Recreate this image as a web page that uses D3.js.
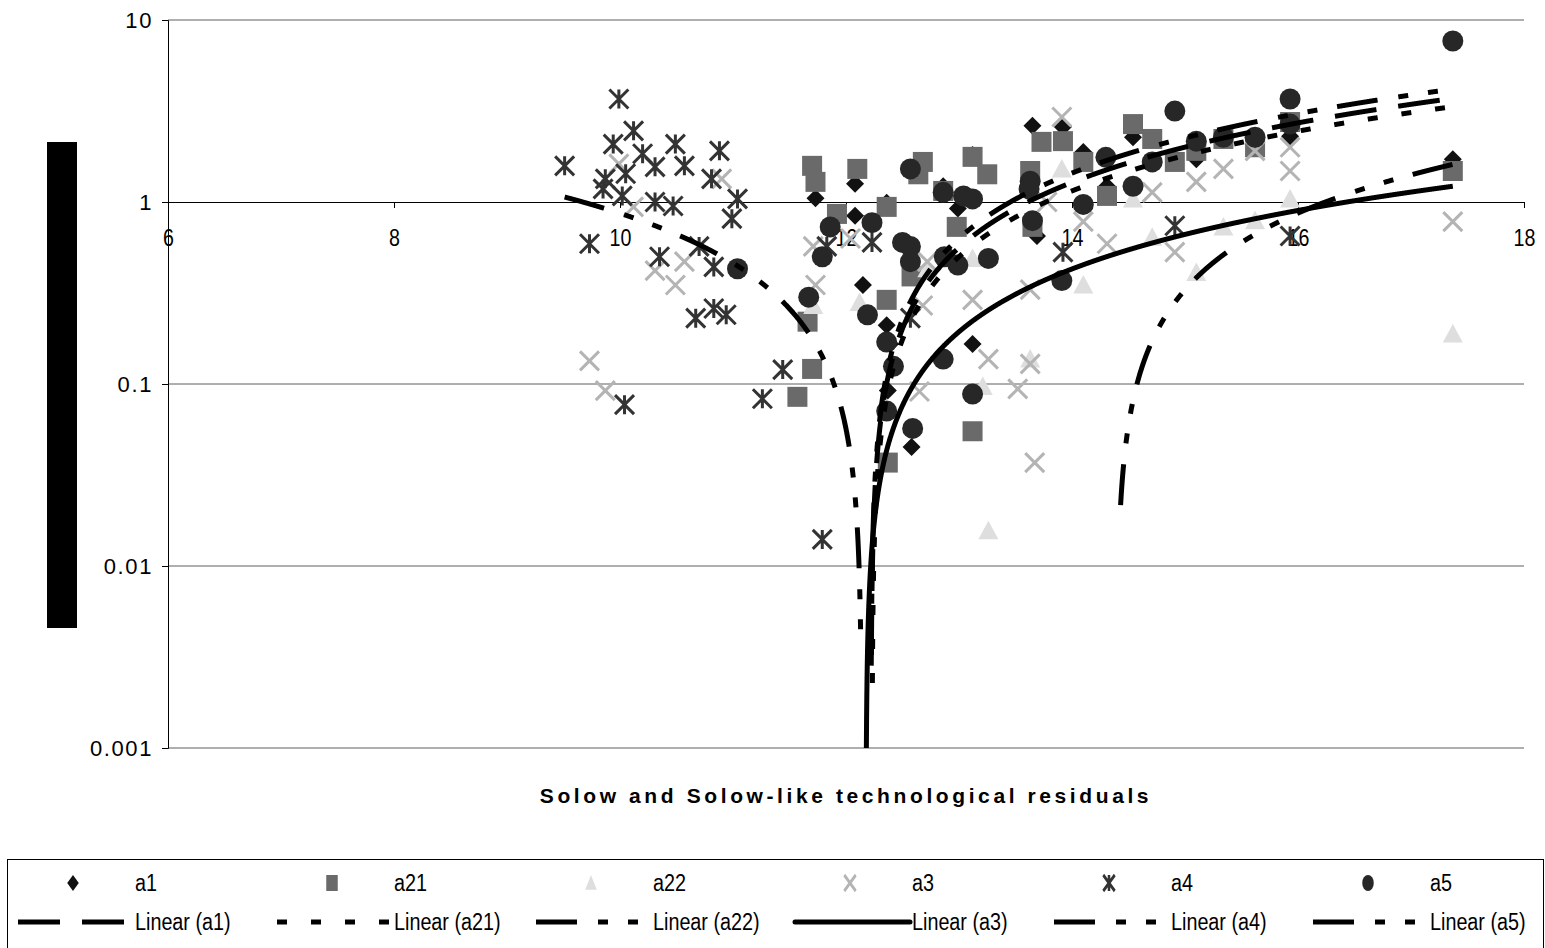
<!DOCTYPE html>
<html>
<head>
<meta charset="utf-8">
<script src="https://cdnjs.cloudflare.com/ajax/libs/d3/7.8.5/d3.min.js"></script>
<style>
	body { margin: 0; background: #fff; }
	svg { display: block; font-family: "Liberation Sans", Arial, sans-serif; }
</style>
</head>
<body>
<div id="chart"></div>
<script>
// series, [x, y]
var seriesNames = ["a1", "a21", "a22", "a3", "a4", "a5"];

var a1 = [[11.73,1.05],[12.08,1.26],[12.08,0.84],[12.36,0.99],[12.15,0.35],[12.36,0.21],[12.39,0.166],[12.37,0.092],
	[12.58,0.045],[12.86,1.22],[12.99,0.92],[13.12,1.81],[13.12,0.166],[13.65,2.62],[13.69,0.65],[13.92,2.58],
	[14.1,1.88],[14.31,1.22],[14.54,2.27],[15.1,1.72],[15.93,2.3],[17.37,1.72]];

var a21 = [[11.7,1.58],[11.73,1.29],[12.1,1.52],[11.92,0.86],[11.66,0.22],[11.7,0.121],[11.57,0.085],[12.36,0.94],
	[12.64,1.42],[12.68,1.66],[12.86,1.15],[13.12,1.77],[13.25,1.42],[12.36,0.29],[12.58,0.39],[12.98,0.73],
	[13.63,1.48],[13.65,0.73],[13.73,2.14],[13.92,2.16],[14.1,1.66],[12.37,0.037],[13.12,0.055],[14.31,1.08],
	[14.54,2.68],[14.71,2.22],[14.91,1.66],[15.1,1.91],[15.34,2.22],[15.62,2.0],[15.93,2.75],[17.37,1.48]];

var a22 = [[11.71,0.27],[12.12,0.28],[12.72,0.43],[13.12,0.49],[13.21,0.097],[13.63,0.137],[13.91,1.52],[14.1,0.35],
	[13.26,0.0156],[14.54,1.04],[15.1,0.41],[14.71,0.64],[15.34,0.73],[15.62,0.79],[15.93,1.04],[17.37,0.188]];

var a3 = [[9.73,0.134],[9.87,0.092],[9.99,1.62],[10.12,0.94],[10.9,1.34],[10.57,0.47],[10.31,0.42],[10.49,0.35],
	[11.71,0.57],[11.73,0.35],[12.04,0.63],[12.72,0.47],[12.68,0.27],[13.12,0.29],[13.26,0.137],[13.63,0.129],
	[13.52,0.094],[12.65,0.091],[13.67,0.037],[13.63,0.33],[13.78,1.0],[13.91,2.93],[14.1,0.78],[14.31,0.59],
	[14.71,1.13],[14.91,0.53],[15.1,1.29],[15.34,1.52],[15.62,1.91],[15.93,2.0],[15.93,1.48],[17.37,0.78]];

var a4 = [[9.51,1.58],[9.99,3.68],[10.12,2.46],[9.94,2.08],[10.49,2.08],[10.88,1.91],[10.2,1.84],[10.31,1.56],
	[10.57,1.58],[10.05,1.43],[9.87,1.34],[9.85,1.18],[10.02,1.08],[10.81,1.34],[11.04,1.04],[10.31,1.0],
	[10.47,0.95],[10.99,0.81],[9.73,0.59],[10.35,0.5],[10.7,0.57],[10.83,0.44],[10.67,0.23],[10.83,0.26],
	[10.94,0.24],[10.04,0.077],[11.44,0.12],[11.26,0.083],[11.79,0.014],[11.83,0.57],[12.23,0.6],[12.57,0.23],
	[13.92,0.53],[14.91,0.74],[15.93,0.65]];

var a5 = [[11.04,0.43],[11.67,0.3],[11.79,0.5],[11.86,0.73],[12.23,0.77],[12.19,0.24],[12.5,0.6],[12.57,0.57],
	[12.57,0.47],[12.36,0.17],[12.42,0.125],[12.36,0.071],[12.59,0.057],[12.57,1.52],[12.86,1.13],[13.04,1.08],
	[13.12,1.04],[12.86,0.137],[12.99,0.45],[12.87,0.5],[13.26,0.49],[13.12,0.088],[13.63,1.3],[13.65,0.79],
	[13.62,1.18],[13.91,0.37],[14.1,0.97],[14.3,1.76],[14.54,1.22],[14.71,1.66],[14.91,3.16],[15.1,2.16],
	[15.34,2.27],[15.62,2.27],[15.93,3.68],[15.93,2.68],[17.37,7.67]];

// linear trendlines: y = slope * (x - zero), drawn from..to
var trendSlope = [0.72, 0.65, 0.54, 0.235, -0.405, 0.81];
var trendZero = [12.22, 12.23, 14.39, 12.176, 12.14, 12.22];
var trendFrom = [12.2245, 12.2335, 14.43, 12.18, 9.51, 12.2235];
var trendTo = [17.37, 17.37, 17.37, 17.37, 12.13, 17.37];

var xTicks = [6, 8, 10, 12, 14, 16, 18];
var yTicks = [10, 1, 0.1, 0.01, 0.001];
var yTickLabels = ["10", "1", "0.1", "0.01", "0.001"];
var xTitle = "Solow and Solow-like technological residuals";

var seriesData = [a1, a21, a22, a3, a4, a5];

// styles
var shapes = ["diamond", "square", "triangle", "cross", "star", "circle"];
var colors = ["#111111", "#6a6a6a", "#dedede", "#b4b4b4", "#333333", "#272727"];
var dashes = ["42,22", "10,24", "41,21,10,20,10,20", "none", "41,21,10,20,10,20", "41,21,10,20,10,20"];

var layout = {
	w: 1545,
	h: 948,
	left: 168,
	right: 1524,
	top: 20,
	bottom: 748
};

var svg = d3.select("#chart")
			.append("svg")
			.attr("width", layout.w)
			.attr("height", layout.h);

var xScale = d3.scaleLinear().domain([6, 18]).range([layout.left, layout.right]),
	yScale = d3.scaleLog().domain([0.001, 10]).range([layout.bottom, layout.top]);

svg.append("clipPath")
	.attr("id", "plotClip")
	.append("rect")
	.attr("x", layout.left)
	.attr("y", layout.top)
	.attr("width", layout.right - layout.left)
	.attr("height", layout.bottom - layout.top);

// gridlines
svg.append("g")
	.attr("class", "grid")
	.selectAll("line")
	.data(yTicks.filter(function(d){ return d != 1; }))
	.enter().append("line")
	.attr("x1", layout.left)
	.attr("x2", layout.right)
	.attr("y1", function(d){ return yScale(d); })
	.attr("y2", function(d){ return yScale(d); })
	.style("stroke", "#5e5e5e")
	.style("stroke-width", 1);

// y axis
var yAxis = svg.append("g")
				.attr("transform", "translate(" + layout.left + ",0)")
				.call(d3.axisLeft(yScale)
					.tickValues(yTicks)
					.tickFormat(function(d, i){ return yTickLabels[i]; })
					.tickSize(6)
					.tickPadding(9));
yAxis.select(".domain").attr("stroke", "#000");
yAxis.selectAll("text")
	.style("font-size", "22px")
	.style("letter-spacing", "1.6px")
	.attr("fill", "#000");

// x axis crosses at y = 1
var xAxis = svg.append("g")
				.attr("transform", "translate(0," + yScale(1) + ")")
				.call(d3.axisBottom(xScale)
					.tickValues(xTicks)
					.tickSize(6)
					.tickPadding(21));
xAxis.select(".domain").attr("stroke", "#000");
xAxis.selectAll("text")
	.style("font-size", "24px")
	.attr("fill", "#000")
	.attr("transform", "scale(0.82,1)");

// y title bar (blacked out in the original)
svg.append("rect")
	.attr("x", 47)
	.attr("y", 142)
	.attr("width", 30)
	.attr("height", 486)
	.style("fill", "#000");

svg.append("text")
	.attr("x", (layout.left + layout.right) / 2)
	.attr("y", 803)
	.attr("text-anchor", "middle")
	.style("font-size", "21px")
	.style("font-weight", "bold")
	.style("letter-spacing", "3.6px")
	.text(xTitle);

function markerPath(shape, s){
	var h = s / 2;
	if(shape == "diamond"){
		return "M0," + (-h) + "L" + h + ",0L0," + h + "L" + (-h) + ",0Z";
	}else if(shape == "square"){
		return "M" + (-h) + "," + (-h) + "H" + h + "V" + h + "H" + (-h) + "Z";
	}else if(shape == "triangle"){
		return "M0," + (-h) + "L" + h + "," + (h * 0.85) + "L" + (-h) + "," + (h * 0.85) + "Z";
	}else if(shape == "cross"){
		return "M" + (-h) + "," + (-h) + "L" + h + "," + h + "M" + h + "," + (-h) + "L" + (-h) + "," + h;
	}else if(shape == "star"){
		return "M" + (-h) + "," + (-h) + "L" + h + "," + h + "M" + h + "," + (-h) + "L" + (-h) + "," + h +
			"M0," + (-h) + "L0," + h;
	}
	return d3.symbol().type(d3.symbolCircle).size(Math.PI * h * h)();
}

var markerSize = [18, 20, 20, 19, 19, 21];

function styleMarker(sel, i){
	if(shapes[i] == "cross" || shapes[i] == "star"){
		sel.style("fill", "none")
			.style("stroke", colors[i])
			.style("stroke-width", 3);
	}else{
		sel.style("fill", colors[i]);
	}
}

// markers
var markers = svg.append("g").attr("class", "markers");
seriesData.forEach(function(data, i){
	var pts = markers.append("g")
					.attr("class", "series-" + seriesNames[i])
					.selectAll("path")
					.data(data)
					.enter().append("path")
					.attr("transform", function(d){ return "translate(" + xScale(d[0]) + "," + yScale(d[1]) + ")"; })
					.attr("d", markerPath(shapes[i], markerSize[i]));
	styleMarker(pts, i);
});

// trendlines on top
var trendLine = d3.line()
					.x(function(d){ return xScale(d[0]); })
					.y(function(d){ return yScale(d[1]); });

var trends = svg.append("g")
				.attr("class", "trends")
				.attr("clip-path", "url(#plotClip)");

seriesNames.forEach(function(name, i){
	var pts = d3.range(trendFrom[i], trendTo[i], 0.002)
				.concat([trendTo[i]])
				.map(function(x){ return [x, trendSlope[i] * (x - trendZero[i])]; })
				.filter(function(d){ return d[1] > 0; });
	trends.append("path")
		.datum(pts)
		.attr("d", trendLine)
		.style("fill", "none")
		.style("stroke", "#000")
		.style("stroke-width", 5)
		.style("stroke-dasharray", dashes[i]);
});

// legend
svg.append("rect")
	.attr("x", 7.5)
	.attr("y", 859.5)
	.attr("width", 1536)
	.attr("height", 120)
	.style("fill", "none")
	.style("stroke", "#000")
	.style("stroke-width", 1);

var colX = d3.scaleLinear().domain([0, 1]).range([15, 274]);
var legend = svg.append("g").attr("class", "legend");

seriesNames.forEach(function(name, i){
	var x0 = colX(i);
	var m = legend.append("path")
				.attr("transform", "translate(" + (x0 + 58) + ",883) scale(0.72,1)")
				.attr("d", markerPath(shapes[i], 16));
	styleMarker(m, i);
	if(shapes[i] == "cross" || shapes[i] == "star"){ m.style("stroke-width", 3.5); }

	legend.append("text")
		.attr("transform", "translate(" + (x0 + 120) + ",891) scale(0.86,1)")
		.style("font-size", "23px")
		.text(name);

	legend.append("line")
		.attr("x1", x0 + 3)
		.attr("x2", x0 + 118)
		.attr("y1", 922)
		.attr("y2", 922)
		.style("stroke", "#000")
		.style("stroke-width", 5)
		.style("stroke-linecap", shapes[i] == "cross" ? "round" : "butt")
		.style("stroke-dasharray", dashes[i]);

	legend.append("text")
		.attr("transform", "translate(" + (x0 + 120) + ",930) scale(0.86,1)")
		.style("font-size", "23px")
		.text("Linear (" + name + ")");
});
</script>
</body>
</html>
